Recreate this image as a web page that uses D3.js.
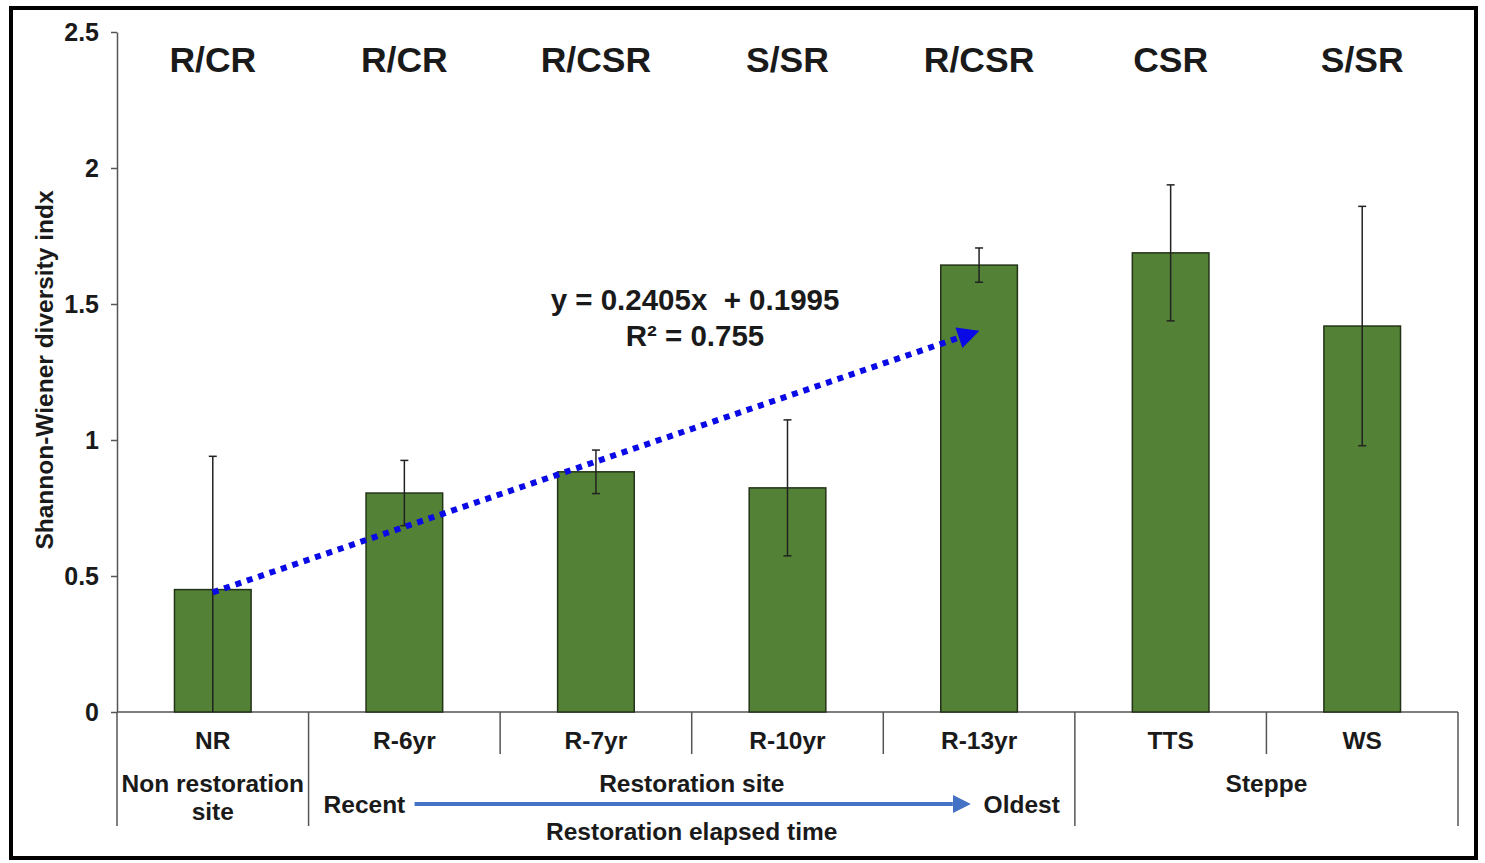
<!DOCTYPE html>
<html>
<head>
<meta charset="utf-8">
<script src="https://cdn.jsdelivr.net/npm/d3@7"></script>
<style>
  html, body { margin: 0; padding: 0; background: #fff; }
  svg { display: block; font-family: "Liberation Sans", Arial, sans-serif; }
  text { font-weight: bold; fill: #1a1a1a; }
</style>
</head>
<body>
<svg id="chart" width="1485" height="863"></svg>
<script>
// Shannon-Wiener diversity by site
const categories = ["NR", "R-6yr", "R-7yr", "R-10yr", "R-13yr", "TTS", "WS"];
const meanValues = [0.45, 0.805, 0.883, 0.824, 1.643, 1.688, 1.419];
const errValues  = [0.49, 0.12, 0.08, 0.25, 0.063, 0.25, 0.44];
const strategyLabels = ["R/CR", "R/CR", "R/CSR", "S/SR", "R/CSR", "CSR", "S/SR"];
const yTicks = [0, 0.5, 1, 1.5, 2, 2.5];

// Site groups below the axis (index ranges into categories)
const groupNames = [["Non restoration", "site"], ["Restoration site"], ["Steppe"]];
const groupStart = [0, 1, 5];
const groupEnd   = [1, 5, 7];

// Linear trend over the first five sites
const trendSlope = 0.2405;
const trendIntercept = 0.1995;
const trendR2 = 0.755;
const trendRange = [1, 5];

const svg = d3.select("#chart");
const W = 1485, H = 863;
const m = { left: 117, right: 27, top: 32, bottom: 151 };
const plotBottom = H - m.bottom;
const labelSize = 24.5;

const x = d3.scaleBand()
  .domain(categories)
  .range([m.left, W - m.right])
  .paddingInner(0.6)
  .paddingOuter(0.3);
const step = x.step();
const cx = d => x(d) + x.bandwidth() / 2;

const y = d3.scaleLinear().domain([0, 2.5]).range([plotBottom, m.top]);

// outer frame
svg.append("rect")
  .attr("x", 11).attr("y", 8).attr("width", W - 20).attr("height", H - 13)
  .attr("fill", "none").attr("stroke", "#000").attr("stroke-width", 4);

// y axis
const yAxis = svg.append("g")
  .attr("transform", `translate(${m.left},0)`)
  .call(d3.axisLeft(y).tickValues(yTicks).tickFormat(d => d).tickSize(6).tickPadding(12).tickSizeOuter(0));
yAxis.select(".domain").attr("stroke", "#555").attr("stroke-width", 1.5);
yAxis.selectAll(".tick line").attr("stroke", "#555").attr("stroke-width", 1.5);
yAxis.selectAll(".tick text")
  .attr("font-size", 25).attr("font-weight", "bold")
  .attr("font-family", "Liberation Sans, Arial, sans-serif").attr("fill", "#1a1a1a");

svg.append("text")
  .attr("transform", `translate(53,${(m.top + plotBottom) / 2 - 2}) rotate(-90)`)
  .attr("text-anchor", "middle")
  .attr("font-size", 24.5)
  .text("Shannon-Wiener diversity indx");

// x axis line
svg.append("line")
  .attr("x1", m.left).attr("x2", W - m.right)
  .attr("y1", plotBottom).attr("y2", plotBottom)
  .attr("stroke", "#555").attr("stroke-width", 1.5);

// category separators: long at group edges, short inside groups
const groupEdges = new Set([...groupStart, ...groupEnd]);
d3.range(categories.length + 1).forEach(i => {
  const xx = m.left + i * step;
  svg.append("line")
    .attr("x1", xx).attr("x2", xx)
    .attr("y1", plotBottom).attr("y2", groupEdges.has(i) ? 826 : 754)
    .attr("stroke", "#555").attr("stroke-width", 1.5);
});

// bars
svg.selectAll("rect.bar")
  .data(categories)
  .join("rect")
  .attr("class", "bar")
  .attr("x", d => x(d))
  .attr("width", x.bandwidth())
  .attr("y", (d, i) => y(meanValues[i]))
  .attr("height", (d, i) => plotBottom - y(meanValues[i]))
  .attr("fill", "#538135")
  .attr("stroke", "#233318")
  .attr("stroke-width", 1.5);

// error bars
const eb = svg.selectAll("g.err").data(categories).join("g").attr("class", "err");
eb.append("line")
  .attr("x1", d => cx(d)).attr("x2", d => cx(d))
  .attr("y1", (d, i) => y(Math.max(0, meanValues[i] - errValues[i])))
  .attr("y2", (d, i) => y(meanValues[i] + errValues[i]))
  .attr("stroke", "#222").attr("stroke-width", 1.5);
eb.append("line")
  .attr("x1", d => cx(d) - 4).attr("x2", d => cx(d) + 4)
  .attr("y1", (d, i) => y(meanValues[i] + errValues[i]))
  .attr("y2", (d, i) => y(meanValues[i] + errValues[i]))
  .attr("stroke", "#222").attr("stroke-width", 1.5);
eb.filter((d, i) => meanValues[i] - errValues[i] > 0).append("line")
  .attr("x1", d => cx(d) - 4).attr("x2", d => cx(d) + 4)
  .attr("y1", d => { const i = categories.indexOf(d); return y(meanValues[i] - errValues[i]); })
  .attr("y2", d => { const i = categories.indexOf(d); return y(meanValues[i] - errValues[i]); })
  .attr("stroke", "#222").attr("stroke-width", 1.5);

// strategy labels along the top
svg.selectAll("text.strat")
  .data(categories)
  .join("text")
  .attr("class", "strat")
  .attr("x", d => cx(d))
  .attr("y", 72)
  .attr("text-anchor", "middle")
  .attr("font-size", 35.5)
  .text((d, i) => strategyLabels[i]);

// trend line with arrowhead
const defs = svg.append("defs");
defs.append("marker")
  .attr("id", "trendHead")
  .attr("viewBox", "0 0 10 10")
  .attr("refX", 3).attr("refY", 5)
  .attr("markerWidth", 4.2).attr("markerHeight", 3.6)
  .attr("markerUnits", "strokeWidth")
  .attr("orient", "auto")
  .append("path").attr("d", "M0,0 L10,5 L0,10 Z").attr("fill", "#0a0ae6");

const trendX = i => cx(categories[i - 1]);
const trendY = i => y(trendSlope * i + trendIntercept);
svg.append("line")
  .attr("x1", trendX(trendRange[0])).attr("y1", trendY(trendRange[0]))
  .attr("x2", trendX(trendRange[1]) - 14).attr("y2", trendY(trendRange[1]) + 5)
  .attr("stroke", "#0a0ae6").attr("stroke-width", 6)
  .attr("stroke-dasharray", "6,6")
  .attr("marker-end", "url(#trendHead)");

svg.append("text")
  .attr("x", 695).attr("y", 310)
  .attr("text-anchor", "middle")
  .attr("font-size", 29.5)
  .style("white-space", "pre")
  .text(`y = ${trendSlope}x  + ${trendIntercept}`);
svg.append("text")
  .attr("x", 695).attr("y", 346)
  .attr("text-anchor", "middle")
  .attr("font-size", 29.5)
  .text(`R² = ${trendR2}`);

// category labels
svg.selectAll("text.cat")
  .data(categories)
  .join("text")
  .attr("class", "cat")
  .attr("x", d => cx(d))
  .attr("y", 749)
  .attr("text-anchor", "middle")
  .attr("font-size", labelSize)
  .text(d => d);

// group labels
groupNames.forEach((lines, g) => {
  const mid = m.left + (groupStart[g] + groupEnd[g]) / 2 * step;
  lines.forEach((t, k) => {
    svg.append("text")
      .attr("x", mid).attr("y", 792 + k * 28)
      .attr("text-anchor", "middle")
      .attr("font-size", labelSize)
      .text(t);
  });
});

// elapsed-time arrow under the restoration group
const rStart = m.left + groupStart[1] * step;
const rEnd = m.left + groupEnd[1] * step;
const rMid = (rStart + rEnd) / 2;
svg.append("text").attr("x", rStart + 15).attr("y", 813).attr("font-size", labelSize).text("Recent");
svg.append("text").attr("x", rEnd - 15).attr("y", 813).attr("text-anchor", "end").attr("font-size", labelSize).text("Oldest");
defs.append("marker")
  .attr("id", "timeHead")
  .attr("viewBox", "0 0 10 10")
  .attr("refX", 0).attr("refY", 5)
  .attr("markerWidth", 4.5).attr("markerHeight", 4.5)
  .attr("markerUnits", "strokeWidth")
  .attr("orient", "auto")
  .append("path").attr("d", "M0,0 L10,5 L0,10 Z").attr("fill", "#4472c4");
svg.append("line")
  .attr("x1", rStart + 106).attr("x2", rEnd - 122)
  .attr("y1", 804).attr("y2", 804)
  .attr("stroke", "#4472c4").attr("stroke-width", 4)
  .attr("marker-end", "url(#timeHead)");
svg.append("text").attr("x", rMid).attr("y", 840).attr("text-anchor", "middle").attr("font-size", labelSize)
  .text("Restoration elapsed time");
</script>
</body>
</html>
